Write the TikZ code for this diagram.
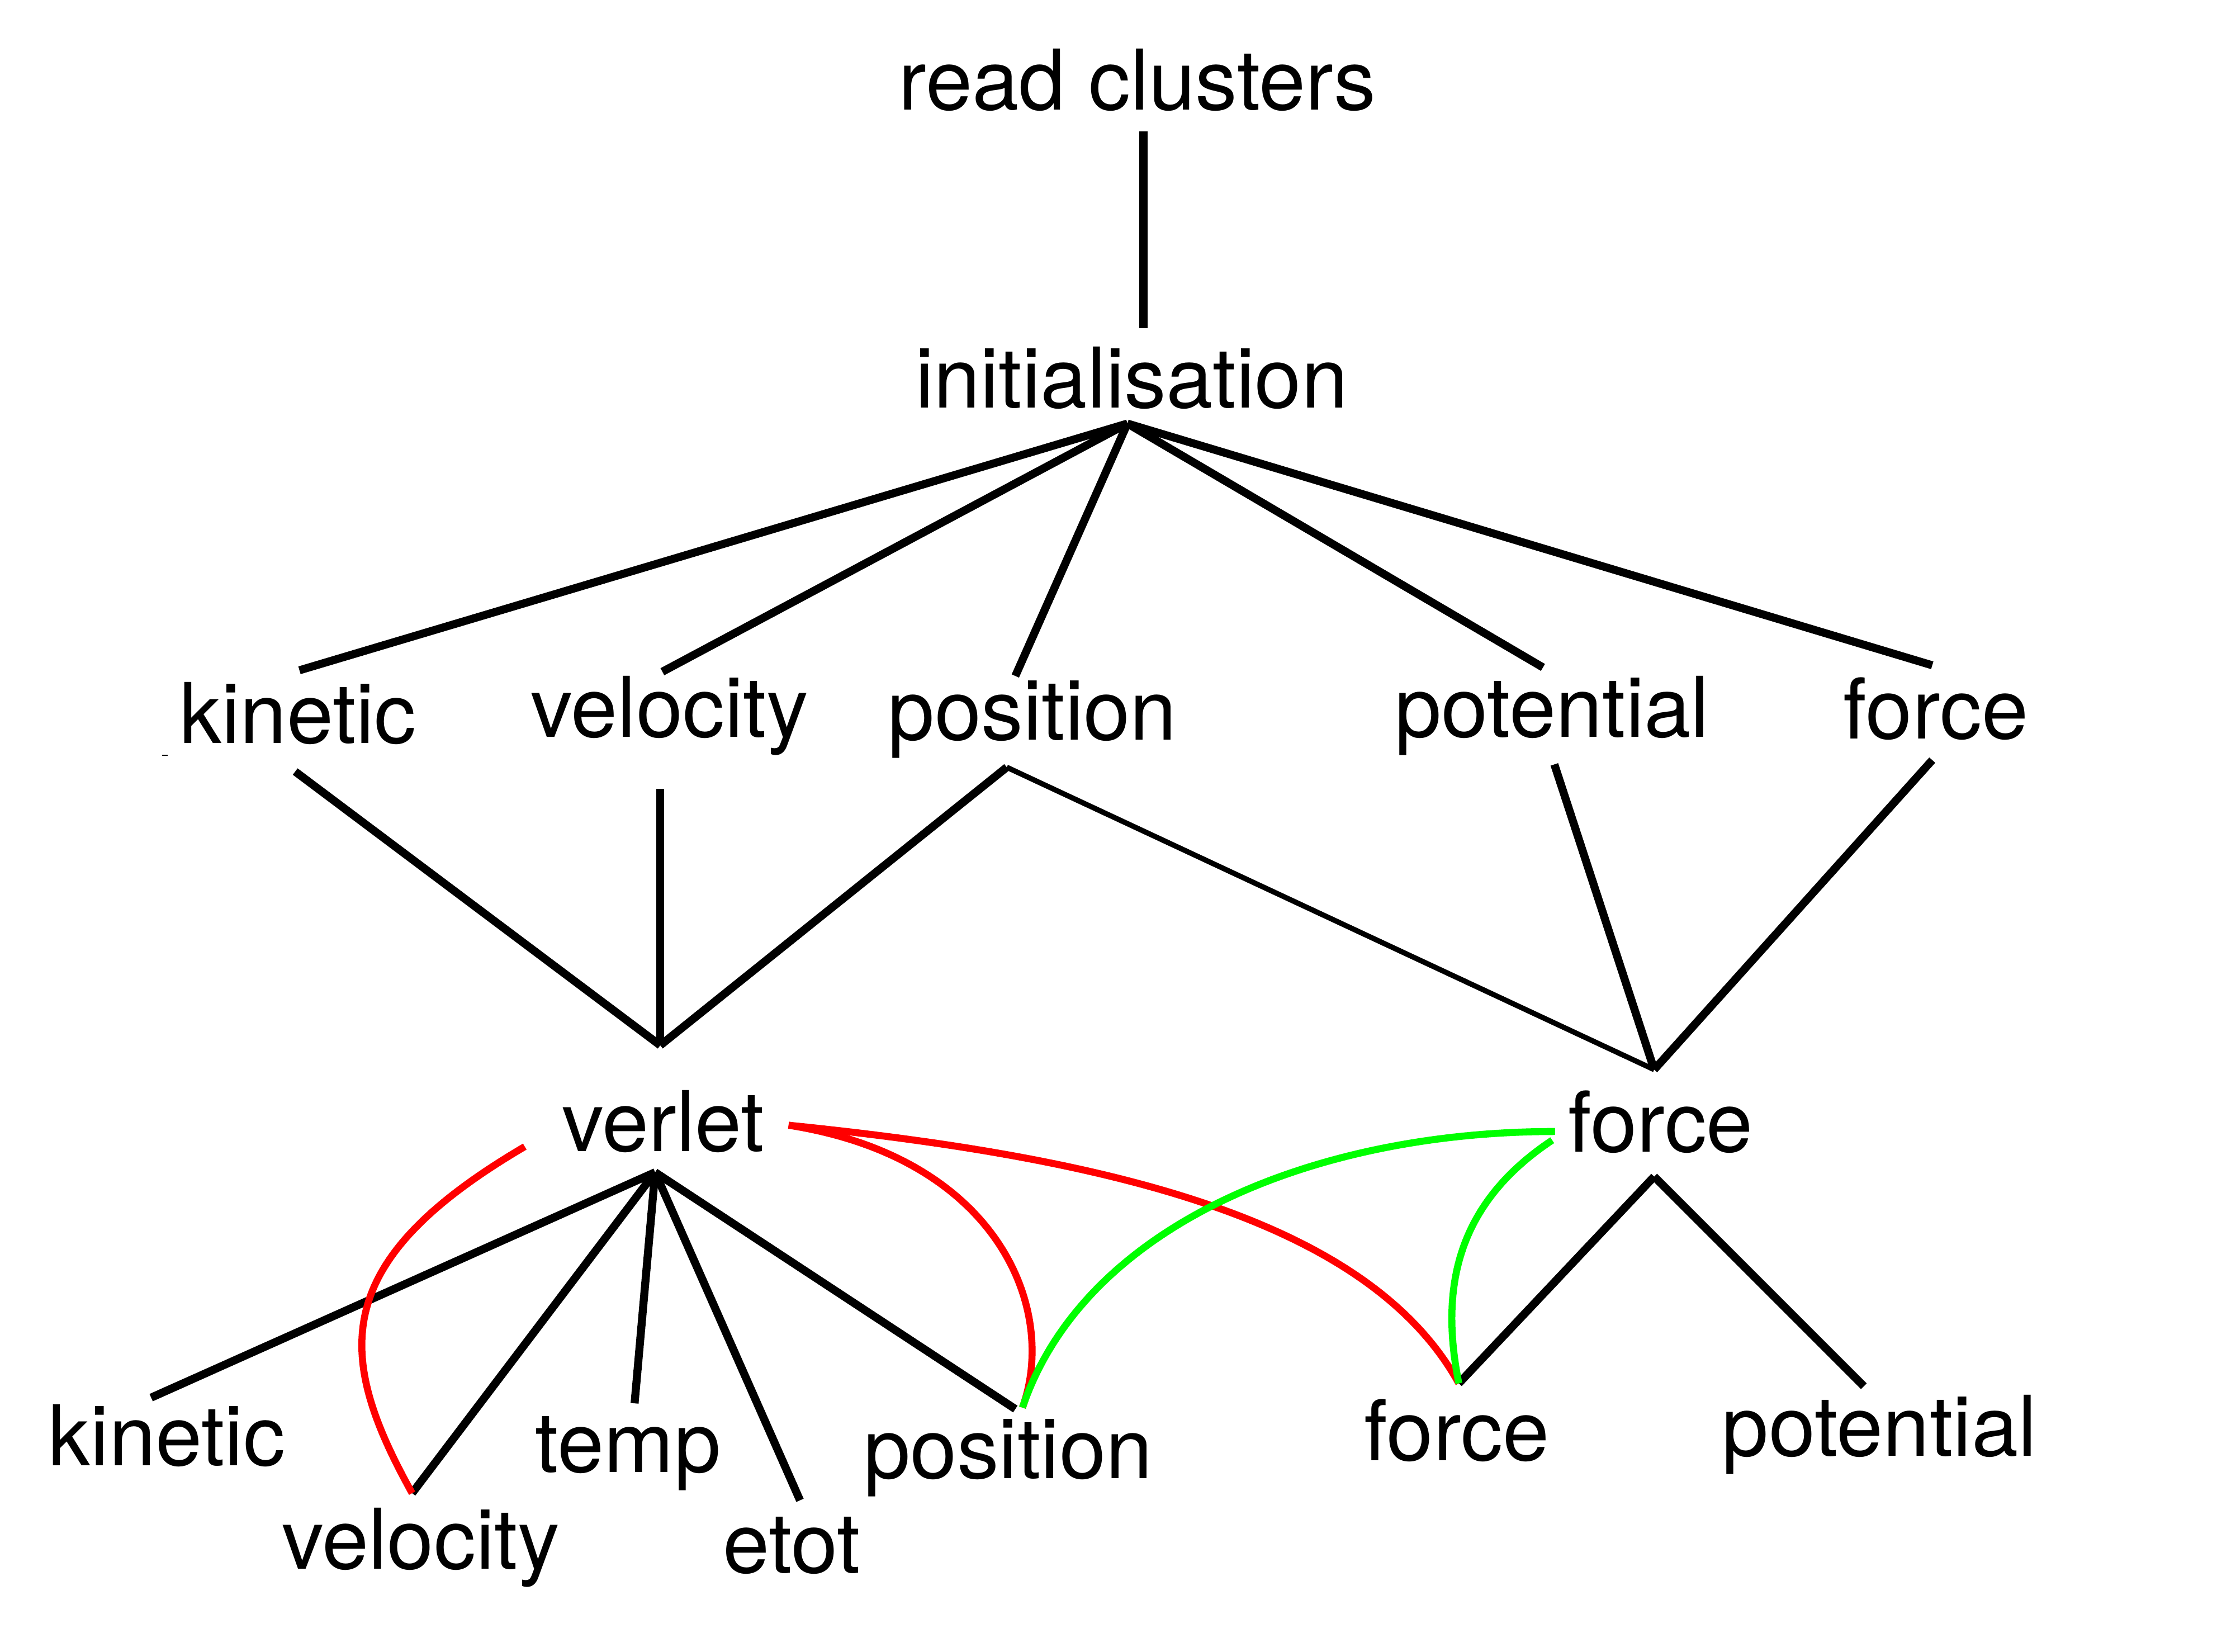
\documentclass[tikz,border=0pt]{standalone}
\usepackage{fontspec}
\setmainfont{TeX Gyre Heros}
\begin{document}
\begin{tikzpicture}[x=0.01cm,y=-0.01cm,
  lbl/.style={anchor=base,inner sep=0pt,font=\fontsize{16.7pt}{20pt}\selectfont},
  edge/.style={line width=1.6pt,black},
  thinedge/.style={line width=1.05pt,black},
  redarc/.style={line width=1.4pt,red},
  greenarc/.style={line width=1.4pt,green}]
\useasboundingbox (0,0) rectangle (1568,1158);
% labels
\node[lbl] (rc) at (797.5,77) {read clusters};
\node[lbl] (init) at (793.5,286) {initialisation};
\node[lbl] (kin1) at (209,521) {kinetic};
\node[lbl] (vel1) at (469.5,517) {velocity};
\node[lbl] (pos1) at (724,519) {position};
\node[lbl] (pot1) at (1088.5,517) {potential};
\node[lbl] (for1) at (1357.5,518) {force};
\node[lbl] (verlet) at (465,807.5) {verlet};
\node[lbl] (for2) at (1164.5,807.8) {force};
\node[lbl] (kin2) at (117,1027.5) {kinetic};
\node[lbl] (vel2) at (295,1100) {velocity};
\node[lbl] (temp) at (440.5,1032.5) {temp};
\node[lbl] (etot) at (555,1103) {etot};
\node[lbl] (pos2) at (707,1036.5) {position};
\node[lbl] (for3) at (1021.5,1024) {force};
\node[lbl] (pot3) at (1318,1021) {potential};
% connector end points
\coordinate (rcB) at (801.8,92);
\coordinate (initT) at (801.8,230);
\coordinate (initH) at (790.6,297);
\coordinate (kin1T) at (210,470);
\coordinate (vel1T) at (464.5,471);
\coordinate (pos1T) at (712,474);
\coordinate (pot1T) at (1082,468);
\coordinate (for1T) at (1355,466.5);
\coordinate (kin1B) at (207,541);
\coordinate (vel1B) at (463,553);
\coordinate (pos1B) at (706,538);
\coordinate (pot1B) at (1090,536);
\coordinate (for1B) at (1355,533);
\coordinate (verT) at (463,733);
\coordinate (for2T) at (1160,750);
\coordinate (verH) at (459.4,822);
\coordinate (for2H) at (1160,825);
\coordinate (kin2T) at (106,980);
\coordinate (vel2T) at (289,1047);
\coordinate (tempT) at (445,984);
\coordinate (etotT) at (561,1052);
\coordinate (pos2T) at (712,988);
\coordinate (for3T) at (1023,970);
\coordinate (pot3T) at (1307,972);
\coordinate (verL) at (368,804);
\coordinate (verR) at (553,789);
\coordinate (for2L) at (1090.5,793.4);
\coordinate (for2Lb) at (1088.5,799.5);
\coordinate (pos2Tr) at (717,987);
\coordinate (dotA) at (113.5,529.6);
\coordinate (dotB) at (117.5,529.6);
% black tree
\draw[edge] (rcB) -- (initT);
\draw[edge] (initH) -- (kin1T);
\draw[edge] (initH) -- (vel1T);
\draw[edge] (initH) -- (pos1T);
\draw[edge] (initH) -- (pot1T);
\draw[edge] (initH) -- (for1T);
\draw[edge] (kin1B) -- (verT);
\draw[edge] (vel1B) -- (verT);
\draw[edge] (pos1B) -- (verT);
\draw[thinedge] (pos1B) -- (for2T);
\draw[edge] (pot1B) -- (for2T);
\draw[edge] (for1B) -- (for2T);
\draw[edge] (verH) -- (kin2T);
\draw[edge] (verH) -- (vel2T);
\draw[edge] (verH) -- (tempT);
\draw[edge] (verH) -- (etotT);
\draw[edge] (verH) -- (pos2T);
\draw[edge] (for2H) -- (for3T);
\draw[edge] (for2H) -- (pot3T);
\draw[line width=0.3pt] (dotA) -- (dotB);
% red arcs
\draw[redarc] (verL) .. controls (230,885) and (235,950) .. (vel2T);
\draw[redarc] (verR) .. controls (700,812) and (742,918) .. (pos2Tr);
\draw[redarc] (verR) .. controls (780,812) and (960,856) .. (for3T);
% green arcs
\draw[greenarc] (for2L) .. controls (920,793.4) and (760,860) .. (pos2Tr);
\draw[greenarc] (for2Lb) .. controls (1020,845) and (1010,905) .. (for3T);
\end{tikzpicture}
\end{document}
